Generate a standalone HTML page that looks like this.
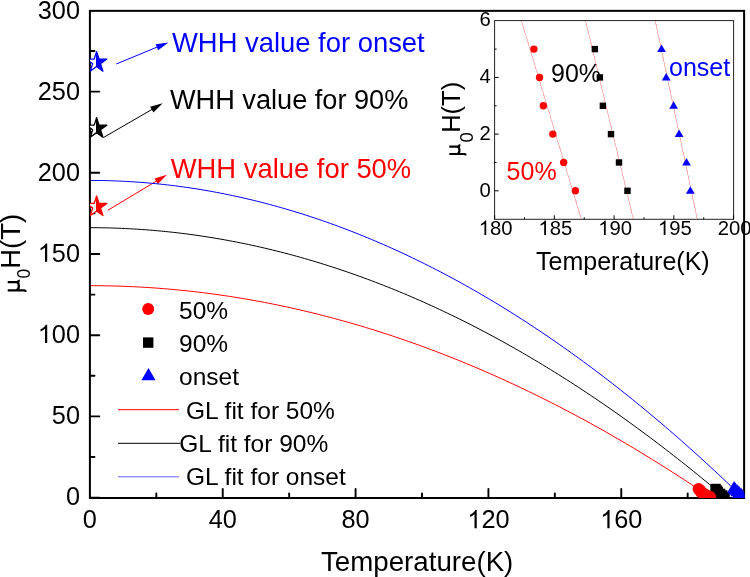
<!DOCTYPE html><html><head><meta charset="utf-8"><style>html,body{margin:0;padding:0;background:#fff;width:750px;height:577px;overflow:hidden}svg{display:block;will-change:transform}text{font-family:"Liberation Sans", sans-serif}</style></head><body>
<svg width="750" height="577" viewBox="0 0 750 577">
<defs><clipPath id="mcp"><rect x="89.9" y="10.85" width="654.2" height="487.15"/></clipPath><clipPath id="ic"><rect x="494.6" y="20.6" width="239" height="198.4"/></clipPath></defs>
<line x1="116.3" y1="64.0" x2="157.78" y2="46.80" stroke="#0000ff" stroke-width="1"/><polygon points="168.4,42.4 158.12,50.24 155.59,44.14" fill="#0000ff"/>
<line x1="103.5" y1="137.5" x2="152.65" y2="109.06" stroke="#000000" stroke-width="1"/><polygon points="162.6,103.3 153.43,112.42 150.13,106.70" fill="#000000"/>
<line x1="107.8" y1="210.3" x2="157.04" y2="180.72" stroke="#ff0000" stroke-width="1"/><polygon points="166.9,174.8 157.88,184.07 154.49,178.41" fill="#ff0000"/>
<g clip-path="url(#mcp)">
<polyline points="89.90,285.67 93.78,285.68 97.66,285.70 101.54,285.74 105.43,285.80 109.31,285.87 113.19,285.97 117.07,286.07 120.95,286.20 124.83,286.34 128.71,286.50 132.60,286.67 136.48,286.86 140.36,287.07 144.24,287.29 148.12,287.53 152.00,287.79 155.88,288.06 159.77,288.35 163.65,288.66 167.53,288.98 171.41,289.32 175.29,289.67 179.17,290.05 183.05,290.44 186.94,290.84 190.82,291.26 194.70,291.70 198.58,292.16 202.46,292.63 206.34,293.12 210.22,293.62 214.11,294.15 217.99,294.68 221.87,295.24 225.75,295.81 229.63,296.40 233.51,297.00 237.39,297.62 241.28,298.26 245.16,298.91 249.04,299.58 252.92,300.27 256.80,300.98 260.68,301.70 264.56,302.43 268.45,303.19 272.33,303.96 276.21,304.74 280.09,305.54 283.97,306.36 287.85,307.20 291.73,308.05 295.62,308.92 299.50,309.81 303.38,310.71 307.26,311.63 311.14,312.57 315.02,313.52 318.90,314.49 322.79,315.47 326.67,316.47 330.55,317.49 334.43,318.53 338.31,319.58 342.19,320.65 346.07,321.73 349.96,322.83 353.84,323.95 357.72,325.08 361.60,326.23 365.48,327.40 369.36,328.58 373.24,329.78 377.12,331.00 381.01,332.24 384.89,333.49 388.77,334.75 392.65,336.03 396.53,337.33 400.41,338.65 404.29,339.98 408.18,341.33 412.06,342.70 415.94,344.08 419.82,345.48 423.70,346.90 427.58,348.33 431.46,349.78 435.35,351.24 439.23,352.72 443.11,354.22 446.99,355.74 450.87,357.27 454.75,358.82 458.63,360.38 462.52,361.96 466.40,363.56 470.28,365.18 474.16,366.81 478.04,368.45 481.92,370.12 485.80,371.80 489.69,373.50 493.57,375.21 497.45,376.94 501.33,378.69 505.21,380.45 509.09,382.23 512.97,384.03 516.86,385.84 520.74,387.67 524.62,389.51 528.50,391.38 532.38,393.26 536.26,395.15 540.14,397.06 544.03,398.99 547.91,400.94 551.79,402.90 555.67,404.88 559.55,406.87 563.43,408.89 567.31,410.91 571.20,412.96 575.08,415.02 578.96,417.10 582.84,419.19 586.72,421.30 590.60,423.43 594.48,425.58 598.37,427.74 602.25,429.91 606.13,432.11 610.01,434.32 613.89,436.55 617.77,438.79 621.65,441.05 625.54,443.33 629.42,445.62 633.30,447.93 637.18,450.25 641.06,452.60 644.94,454.96 648.82,457.33 652.71,459.73 656.59,462.13 660.47,464.56 664.35,467.00 668.23,469.46 672.11,471.94 675.99,474.43 679.88,476.94 683.76,479.46 687.64,482.00 691.52,484.56 695.40,487.14 699.28,489.73 703.16,492.33 707.05,494.96 710.93,497.60" fill="none" stroke="#ff0000" stroke-width="1"/>
<polyline points="89.90,227.69 93.87,227.70 97.84,227.73 101.81,227.79 105.78,227.86 109.75,227.95 113.72,228.07 117.69,228.21 121.67,228.37 125.64,228.55 129.61,228.75 133.58,228.97 137.55,229.21 141.52,229.47 145.49,229.76 149.46,230.06 153.43,230.39 157.40,230.74 161.37,231.11 165.34,231.50 169.31,231.91 173.28,232.34 177.25,232.79 181.23,233.27 185.20,233.76 189.17,234.28 193.14,234.82 197.11,235.38 201.08,235.96 205.05,236.56 209.02,237.18 212.99,237.82 216.96,238.49 220.93,239.17 224.90,239.88 228.87,240.61 232.84,241.36 236.81,242.12 240.79,242.92 244.76,243.73 248.73,244.56 252.70,245.41 256.67,246.29 260.64,247.19 264.61,248.10 268.58,249.04 272.55,250.00 276.52,250.98 280.49,251.98 284.46,253.01 288.43,254.05 292.40,255.11 296.37,256.20 300.35,257.31 304.32,258.44 308.29,259.58 312.26,260.76 316.23,261.95 320.20,263.16 324.17,264.39 328.14,265.65 332.11,266.92 336.08,268.22 340.05,269.54 344.02,270.88 347.99,272.24 351.96,273.62 355.93,275.02 359.91,276.44 363.88,277.89 367.85,279.35 371.82,280.84 375.79,282.35 379.76,283.88 383.73,285.43 387.70,287.00 391.67,288.59 395.64,290.20 399.61,291.84 403.58,293.49 407.55,295.17 411.52,296.87 415.49,298.58 419.47,300.32 423.44,302.08 427.41,303.87 431.38,305.67 435.35,307.49 439.32,309.34 443.29,311.20 447.26,313.09 451.23,315.00 455.20,316.93 459.17,318.88 463.14,320.85 467.11,322.84 471.08,324.86 475.06,326.89 479.03,328.95 483.00,331.03 486.97,333.12 490.94,335.24 494.91,337.38 498.88,339.55 502.85,341.73 506.82,343.93 510.79,346.16 514.76,348.40 518.73,350.67 522.70,352.96 526.67,355.27 530.64,357.60 534.62,359.95 538.59,362.32 542.56,364.71 546.53,367.13 550.50,369.56 554.47,372.02 558.44,374.50 562.41,377.00 566.38,379.51 570.35,382.06 574.32,384.62 578.29,387.20 582.26,389.81 586.23,392.43 590.20,395.08 594.18,397.74 598.15,400.43 602.12,403.14 606.09,405.87 610.06,408.62 614.03,411.40 618.00,414.19 621.97,417.01 625.94,419.84 629.91,422.70 633.88,425.58 637.85,428.48 641.82,431.40 645.79,434.34 649.76,437.30 653.74,440.29 657.71,443.29 661.68,446.32 665.65,449.36 669.62,452.43 673.59,455.52 677.56,458.63 681.53,461.76 685.50,464.92 689.47,468.09 693.44,471.28 697.41,474.50 701.38,477.74 705.35,480.99 709.32,484.27 713.30,487.57 717.27,490.89 721.24,494.24 725.21,497.60" fill="none" stroke="#000000" stroke-width="1"/>
<polyline points="89.90,180.43 93.98,180.45 98.06,180.48 102.14,180.54 106.22,180.63 110.30,180.74 114.38,180.88 118.46,181.04 122.55,181.23 126.63,181.44 130.71,181.67 134.79,181.93 138.87,182.22 142.95,182.53 147.03,182.86 151.11,183.22 155.19,183.60 159.27,184.01 163.35,184.45 167.43,184.91 171.51,185.39 175.59,185.90 179.67,186.43 183.76,186.99 187.84,187.57 191.92,188.18 196.00,188.81 200.08,189.46 204.16,190.15 208.24,190.85 212.32,191.58 216.40,192.34 220.48,193.12 224.56,193.92 228.64,194.75 232.72,195.61 236.80,196.49 240.89,197.39 244.97,198.32 249.05,199.28 253.13,200.26 257.21,201.26 261.29,202.29 265.37,203.34 269.45,204.42 273.53,205.52 277.61,206.65 281.69,207.80 285.77,208.98 289.85,210.18 293.93,211.41 298.01,212.66 302.10,213.93 306.18,215.23 310.26,216.56 314.34,217.91 318.42,219.29 322.50,220.69 326.58,222.11 330.66,223.56 334.74,225.03 338.82,226.53 342.90,228.06 346.98,229.61 351.06,231.18 355.14,232.78 359.22,234.40 363.31,236.05 367.39,237.72 371.47,239.42 375.55,241.14 379.63,242.89 383.71,244.66 387.79,246.46 391.87,248.28 395.95,250.12 400.03,251.99 404.11,253.89 408.19,255.81 412.27,257.75 416.35,259.72 420.43,261.72 424.52,263.74 428.60,265.78 432.68,267.85 436.76,269.95 440.84,272.06 444.92,274.21 449.00,276.38 453.08,278.57 457.16,280.79 461.24,283.03 465.32,285.30 469.40,287.59 473.48,289.91 477.56,292.25 481.65,294.61 485.73,297.00 489.81,299.42 493.89,301.86 497.97,304.33 502.05,306.82 506.13,309.33 510.21,311.87 514.29,314.44 518.37,317.03 522.45,319.64 526.53,322.28 530.61,324.94 534.69,327.63 538.77,330.34 542.86,333.08 546.94,335.84 551.02,338.63 555.10,341.44 559.18,344.28 563.26,347.14 567.34,350.03 571.42,352.94 575.50,355.88 579.58,358.84 583.66,361.83 587.74,364.84 591.82,367.87 595.90,370.93 599.98,374.02 604.07,377.13 608.15,380.26 612.23,383.42 616.31,386.60 620.39,389.81 624.47,393.05 628.55,396.30 632.63,399.59 636.71,402.90 640.79,406.23 644.87,409.59 648.95,412.97 653.03,416.38 657.11,419.81 661.20,423.26 665.28,426.75 669.36,430.25 673.44,433.78 677.52,437.34 681.60,440.92 685.68,444.52 689.76,448.15 693.84,451.81 697.92,455.49 702.00,459.19 706.08,462.92 710.16,466.68 714.24,470.45 718.32,474.26 722.41,478.09 726.49,481.94 730.57,485.82 734.65,489.72 738.73,493.65 742.81,497.60" fill="none" stroke="#0000ff" stroke-width="1"/>
</g>
<rect x="89.9" y="10.85" width="654.2" height="487.15" fill="none" stroke="#000" stroke-width="2"/>
<path d="M89.90 497.60h9.4 M89.90 457.00h4.6 M89.90 416.40h9.4 M89.90 375.80h4.6 M89.90 335.20h9.4 M89.90 294.60h4.6 M89.90 254.00h9.4 M89.90 213.40h4.6 M89.90 172.80h9.4 M89.90 132.20h4.6 M89.90 91.60h9.4 M89.90 51.00h4.6 M156.32 498.00v-4.6 M222.74 498.00v-9.0 M289.16 498.00v-4.6 M355.58 498.00v-9.0 M422.00 498.00v-4.6 M488.42 498.00v-9.0 M554.84 498.00v-4.6 M621.26 498.00v-9.0 M687.68 498.00v-4.6" stroke="#000" stroke-width="1.9" stroke-linecap="round" fill="none"/>
<clipPath id="dcp"><rect x="90" y="11" width="654.3" height="487.0"/></clipPath>
<g clip-path="url(#dcp)">
<rect x="710.34" y="483.78" width="10.4" height="10.4" fill="#000"/>
<rect x="711.74" y="485.40" width="10.4" height="10.4" fill="#000"/>
<rect x="712.57" y="487.03" width="10.4" height="10.4" fill="#000"/>
<rect x="714.83" y="488.65" width="10.4" height="10.4" fill="#000"/>
<rect x="717.05" y="490.28" width="10.4" height="10.4" fill="#000"/>
<rect x="719.41" y="491.90" width="10.4" height="10.4" fill="#000"/>
<circle cx="698.61" cy="488.98" r="6" fill="#ff0000"/>
<circle cx="700.17" cy="490.60" r="6" fill="#ff0000"/>
<circle cx="701.23" cy="492.23" r="6" fill="#ff0000"/>
<circle cx="703.85" cy="493.85" r="6" fill="#ff0000"/>
<circle cx="706.88" cy="495.48" r="6" fill="#ff0000"/>
<circle cx="710.13" cy="497.10" r="6" fill="#ff0000"/>
<polygon points="734.07,480.98 741.17,493.08 726.97,493.08" fill="#0000ff"/>
<polygon points="735.37,482.60 742.47,494.70 728.27,494.70" fill="#0000ff"/>
<polygon points="737.43,484.23 744.53,496.33 730.33,496.33" fill="#0000ff"/>
<polygon points="738.96,485.85 746.06,497.95 731.86,497.95" fill="#0000ff"/>
<polygon points="741.02,487.48 748.12,499.58 733.92,499.58" fill="#0000ff"/>
<polygon points="742.08,489.10 749.18,501.20 734.98,501.20" fill="#0000ff"/>
</g>
<clipPath id="stc"><rect x="90.0" y="11" width="60" height="480"/></clipPath>
<g clip-path="url(#stc)">
<clipPath id="sr62"><rect x="96.0" y="42.4" width="30" height="40"/></clipPath>
<polygon points="96.60,51.60 99.02,59.06 106.87,59.06 100.52,63.67 102.95,71.14 96.60,66.53 90.25,71.14 92.68,63.67 86.33,59.06 94.18,59.06" fill="#fff" stroke="#0000ff" stroke-width="1.3" stroke-linejoin="round"/>
<polygon points="96.60,51.60 99.02,59.06 106.87,59.06 100.52,63.67 102.95,71.14 96.60,66.53 90.25,71.14 92.68,63.67 86.33,59.06 94.18,59.06" fill="#0000ff" clip-path="url(#sr62)"/>
<clipPath id="sr128"><rect x="96.0" y="108.5" width="30" height="40"/></clipPath>
<polygon points="96.60,117.70 99.02,125.16 106.87,125.16 100.52,129.77 102.95,137.24 96.60,132.63 90.25,137.24 92.68,129.77 86.33,125.16 94.18,125.16" fill="#fff" stroke="#000000" stroke-width="1.3" stroke-linejoin="round"/>
<polygon points="96.60,117.70 99.02,125.16 106.87,125.16 100.52,129.77 102.95,137.24 96.60,132.63 90.25,137.24 92.68,129.77 86.33,125.16 94.18,125.16" fill="#000000" clip-path="url(#sr128)"/>
<clipPath id="sr206"><rect x="96.0" y="186.8" width="30" height="40"/></clipPath>
<polygon points="96.60,196.00 99.02,203.46 106.87,203.46 100.52,208.07 102.95,215.54 96.60,210.93 90.25,215.54 92.68,208.07 86.33,203.46 94.18,203.46" fill="#fff" stroke="#ff0000" stroke-width="1.3" stroke-linejoin="round"/>
<polygon points="96.60,196.00 99.02,203.46 106.87,203.46 100.52,208.07 102.95,215.54 96.60,210.93 90.25,215.54 92.68,208.07 86.33,203.46 94.18,203.46" fill="#ff0000" clip-path="url(#sr206)"/>
</g>
<text x="65.93" y="505.30" font-size="25.3" fill="#000">0</text>
<text x="51.86" y="424.10" font-size="25.3" fill="#000">50</text>
<path d="M763 0H583V1147Q518 1085 412.5 1023Q307 961 223 930V1104Q374 1175 487 1276Q600 1377 647 1472H763Z" transform="matrix(0.01235 0 0 -0.01235 37.79 342.90)" fill="#000"/><text x="51.86" y="342.90" font-size="25.3" fill="#000">0</text><text x="65.93" y="342.90" font-size="25.3" fill="#000">0</text>
<path d="M763 0H583V1147Q518 1085 412.5 1023Q307 961 223 930V1104Q374 1175 487 1276Q600 1377 647 1472H763Z" transform="matrix(0.01235 0 0 -0.01235 37.79 261.70)" fill="#000"/><text x="51.86" y="261.70" font-size="25.3" fill="#000">5</text><text x="65.93" y="261.70" font-size="25.3" fill="#000">0</text>
<text x="37.79" y="180.50" font-size="25.3" fill="#000">200</text>
<text x="37.79" y="99.60" font-size="25.3" fill="#000">250</text>
<text x="37.79" y="18.90" font-size="25.3" fill="#000">300</text>
<text x="82.86" y="528.30" font-size="25.3" fill="#000">0</text>
<text x="208.67" y="528.30" font-size="25.3" fill="#000">40</text>
<text x="341.51" y="528.30" font-size="25.3" fill="#000">80</text>
<path d="M763 0H583V1147Q518 1085 412.5 1023Q307 961 223 930V1104Q374 1175 487 1276Q600 1377 647 1472H763Z" transform="matrix(0.01235 0 0 -0.01235 467.31 528.30)" fill="#000"/><text x="481.38" y="528.30" font-size="25.3" fill="#000">2</text><text x="495.46" y="528.30" font-size="25.3" fill="#000">0</text>
<path d="M763 0H583V1147Q518 1085 412.5 1023Q307 961 223 930V1104Q374 1175 487 1276Q600 1377 647 1472H763Z" transform="matrix(0.01235 0 0 -0.01235 600.15 528.30)" fill="#000"/><text x="614.22" y="528.30" font-size="25.3" fill="#000">6</text><text x="628.30" y="528.30" font-size="25.3" fill="#000">0</text>
<text x="321" y="571" font-size="27.7">Temperature(K)</text>
<path d="M1.1,-12.2V4.6Q1.1,5.7-0.4,5.8M1.1,-3.8C1.3,-0.4 8.9,-0.1 9.3,-3.4M9.3,-12.2V-2.4Q9.4,-0.6 11.6,-1.4" transform="translate(19.9,291.5) rotate(-90) scale(1.0)" fill="none" stroke="#000" stroke-width="2.300"/>
<text transform="translate(30.2,278.4) rotate(-90)" font-size="17.5">0</text>
<text transform="translate(20.1,268.8) rotate(-90)" font-size="27.5">H(T)</text>
<circle cx="148.2" cy="308.9" r="6" fill="#ff0000"/>
<rect x="143" y="337.4" width="10.4" height="10.4" fill="#000"/>
<polygon points="148.5,368.1 155.6,380.2 141.4,380.2" fill="#0000ff"/>
<text x="179" y="318.7" font-size="24.5">50%</text>
<text x="179" y="352.2" font-size="24.5">90%</text>
<text x="179" y="385.4" font-size="24.5">onset</text>
<line x1="118" y1="409.7" x2="179" y2="409.7" stroke="#ff0000" stroke-width="1"/>
<line x1="118" y1="443.3" x2="180.3" y2="443.3" stroke="#000" stroke-width="1"/>
<line x1="118" y1="476.8" x2="179" y2="476.8" stroke="#6464ff" stroke-width="1"/>
<text x="186" y="418.7" font-size="24.5">GL fit for 50%</text>
<text x="179.3" y="452.4" font-size="24.5">GL fit for 90%</text>
<text x="186" y="484.7" font-size="24.5">GL fit for onset</text>
<text x="172" y="52" font-size="27.4" fill="#0000ff">WHH value for onset</text>
<text x="170" y="109.3" font-size="27.15" fill="#000">WHH value for 90%</text>
<text x="170.7" y="177.5" font-size="27.4" fill="#ff0000">WHH value for 50%</text>
<rect x="494.6" y="20.6" width="239" height="198.4" fill="#fff"/>
<g clip-path="url(#ic)">
<line x1="521.4" y1="20.6" x2="581.3" y2="219" stroke="#ffb4b4" stroke-width="1" shape-rendering="crispEdges"/>
<line x1="585.5" y1="20.6" x2="633.3" y2="219" stroke="#ffb4b4" stroke-width="1" shape-rendering="crispEdges"/>
<line x1="655.2" y1="20.6" x2="697.3" y2="219" stroke="#ffb4b4" stroke-width="1" shape-rendering="crispEdges"/>
<circle cx="533.92" cy="49.10" r="3.7" fill="#ff0000"/>
<circle cx="539.53" cy="77.44" r="3.7" fill="#ff0000"/>
<circle cx="543.36" cy="105.78" r="3.7" fill="#ff0000"/>
<circle cx="552.80" cy="134.12" r="3.7" fill="#ff0000"/>
<circle cx="563.67" cy="162.46" r="3.7" fill="#ff0000"/>
<circle cx="575.38" cy="190.80" r="3.7" fill="#ff0000"/>
<rect x="591.66" y="45.90" width="6.4" height="6.4" fill="#000"/>
<rect x="596.68" y="74.24" width="6.4" height="6.4" fill="#000"/>
<rect x="599.67" y="102.58" width="6.4" height="6.4" fill="#000"/>
<rect x="607.79" y="130.92" width="6.4" height="6.4" fill="#000"/>
<rect x="615.80" y="159.26" width="6.4" height="6.4" fill="#000"/>
<rect x="624.28" y="187.60" width="6.4" height="6.4" fill="#000"/>
<polygon points="661.54,44.60 665.94,52.10 657.14,52.10" fill="#0000ff"/>
<polygon points="666.20,72.94 670.60,80.44 661.80,80.44" fill="#0000ff"/>
<polygon points="673.61,101.28 678.01,108.78 669.21,108.78" fill="#0000ff"/>
<polygon points="679.11,129.62 683.51,137.12 674.71,137.12" fill="#0000ff"/>
<polygon points="686.52,157.96 690.92,165.46 682.12,165.46" fill="#0000ff"/>
<polygon points="690.34,186.30 694.74,193.80 685.94,193.80" fill="#0000ff"/>
</g>
<rect x="494.6" y="20.6" width="239" height="198.7" fill="none" stroke="#222" stroke-width="1"/>
<path d="M494.6 190.80h4 M494.6 162.46h2 M494.6 134.12h4 M494.6 105.78h2 M494.6 77.44h4 M494.6 49.10h2 M494.60 219.3v-4 M524.48 219.3v-2 M554.35 219.3v-4 M584.23 219.3v-2 M614.10 219.3v-4 M643.98 219.3v-2 M673.85 219.3v-4 M703.73 219.3v-2 M733.60 219.3v-4" stroke="#000" stroke-width="1" fill="none"/>
<text x="479.41" y="196.80" font-size="20.3" fill="#000">0</text>
<text x="479.41" y="140.12" font-size="20.3" fill="#000">2</text>
<text x="479.41" y="83.44" font-size="20.3" fill="#000">4</text>
<text x="479.41" y="26.46" font-size="20.3" fill="#000">6</text>
<path d="M763 0H583V1147Q518 1085 412.5 1023Q307 961 223 930V1104Q374 1175 487 1276Q600 1377 647 1472H763Z" transform="matrix(0.00991 0 0 -0.00991 478.67 235.00)" fill="#000"/><text x="489.96" y="235.00" font-size="20.3" fill="#000">8</text><text x="501.24" y="235.00" font-size="20.3" fill="#000">0</text>
<path d="M763 0H583V1147Q518 1085 412.5 1023Q307 961 223 930V1104Q374 1175 487 1276Q600 1377 647 1472H763Z" transform="matrix(0.00991 0 0 -0.00991 538.42 235.00)" fill="#000"/><text x="549.71" y="235.00" font-size="20.3" fill="#000">8</text><text x="560.99" y="235.00" font-size="20.3" fill="#000">5</text>
<path d="M763 0H583V1147Q518 1085 412.5 1023Q307 961 223 930V1104Q374 1175 487 1276Q600 1377 647 1472H763Z" transform="matrix(0.00991 0 0 -0.00991 598.17 235.00)" fill="#000"/><text x="609.46" y="235.00" font-size="20.3" fill="#000">9</text><text x="620.74" y="235.00" font-size="20.3" fill="#000">0</text>
<path d="M763 0H583V1147Q518 1085 412.5 1023Q307 961 223 930V1104Q374 1175 487 1276Q600 1377 647 1472H763Z" transform="matrix(0.00991 0 0 -0.00991 657.92 235.00)" fill="#000"/><text x="669.21" y="235.00" font-size="20.3" fill="#000">9</text><text x="680.49" y="235.00" font-size="20.3" fill="#000">5</text>
<text x="717.67" y="235.00" font-size="20.3" fill="#000">200</text>
<text x="536" y="269.7" font-size="25">Temperature(K)</text>
<path d="M1.1,-12.2V4.6Q1.1,5.7-0.4,5.8M1.1,-3.8C1.3,-0.4 8.9,-0.1 9.3,-3.4M9.3,-12.2V-2.4Q9.4,-0.6 11.6,-1.4" transform="translate(460.4,155.0) rotate(-90) scale(0.91)" fill="none" stroke="#000" stroke-width="2.418"/>
<text transform="translate(472.7,142.6) rotate(-90)" font-size="18.5">0</text>
<text transform="translate(460.3,132.8) rotate(-90)" font-size="25.5">H(T)</text>
<text x="551" y="81.5" font-size="25">90%</text>
<text x="669" y="75.6" font-size="25" fill="#0000ff">onset</text>
<text x="506.6" y="180.2" font-size="25" fill="#ff0000">50%</text>
</svg></body></html>
